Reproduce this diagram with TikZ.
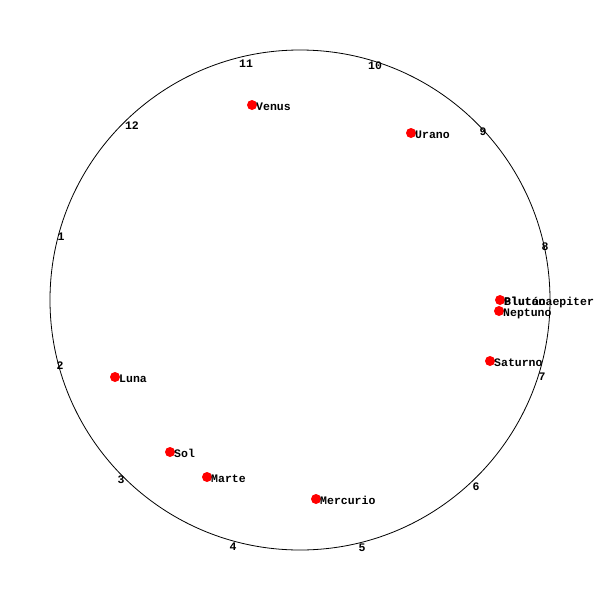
\documentclass[tikz,border=0pt]{standalone}
\usepackage{fontspec}
\setmonofont{Liberation Mono}
\begin{document}
\begin{tikzpicture}[x=1pt,y=-1pt,
  lbl/.style={font=\ttfamily\bfseries\fontsize{11.5}{12}\selectfont, inner sep=0pt, anchor=base west},
  num/.style={font=\ttfamily\bfseries\fontsize{11.5}{12}\selectfont, inner sep=0pt},
  dot/.style={circle, fill=red, draw=none, minimum size=10pt, inner sep=0pt}]
\useasboundingbox (0,0) rectangle (600,600);
\fill[white] (0,0) rectangle (600,600);
\node[circle, draw=black, line width=0.8pt, minimum size=500pt, inner sep=0pt] (wheel) at (300,300) {};
% house numbers
\node[num] (n1) at (61,237) {1};
\node[num] (n2) at (60,366) {2};
\node[num] (n3) at (121,480) {3};
\node[num] (n4) at (233,547) {4};
\node[num] (n5) at (362,548) {5};
\node[num] (n6) at (476,487) {6};
\node[num] (n7) at (542,377) {7};
\node[num] (n8) at (545,247) {8};
\node[num] (n9) at (483,132) {9};
\node[num] (n10) at (375,66) {10};
\node[num] (n11) at (246,64) {11};
\node[num] (n12) at (132,126) {12};
% planets
\node[dot] (venus) at (252,105) {};
\node[lbl] (lvenus) at (256,110) {Venus};
\node[dot] (urano) at (411,133) {};
\node[lbl] (lurano) at (415,138) {Urano};
\node[dot] (pluton) at (500,300) {};
\node[lbl] (lpluton) at (504,305) {Plutón};
\node[lbl] (lquiron) at (504,305) {Blutaoaepiter};
\node[dot] (neptuno) at (499,311) {};
\node[lbl] (lneptuno) at (503,316) {Neptuno};
\node[dot] (saturno) at (490,361) {};
\node[lbl] (lsaturno) at (494,366) {Saturno};
\node[dot] (luna) at (115,377) {};
\node[lbl] (lluna) at (119,382) {Luna};
\node[dot] (sol) at (170,452) {};
\node[lbl] (lsol) at (174,457) {Sol};
\node[dot] (marte) at (207,477) {};
\node[lbl] (lmarte) at (211,482) {Marte};
\node[dot] (mercurio) at (316,499) {};
\node[lbl] (lmercurio) at (320,504) {Mercurio};
\end{tikzpicture}
\end{document}
